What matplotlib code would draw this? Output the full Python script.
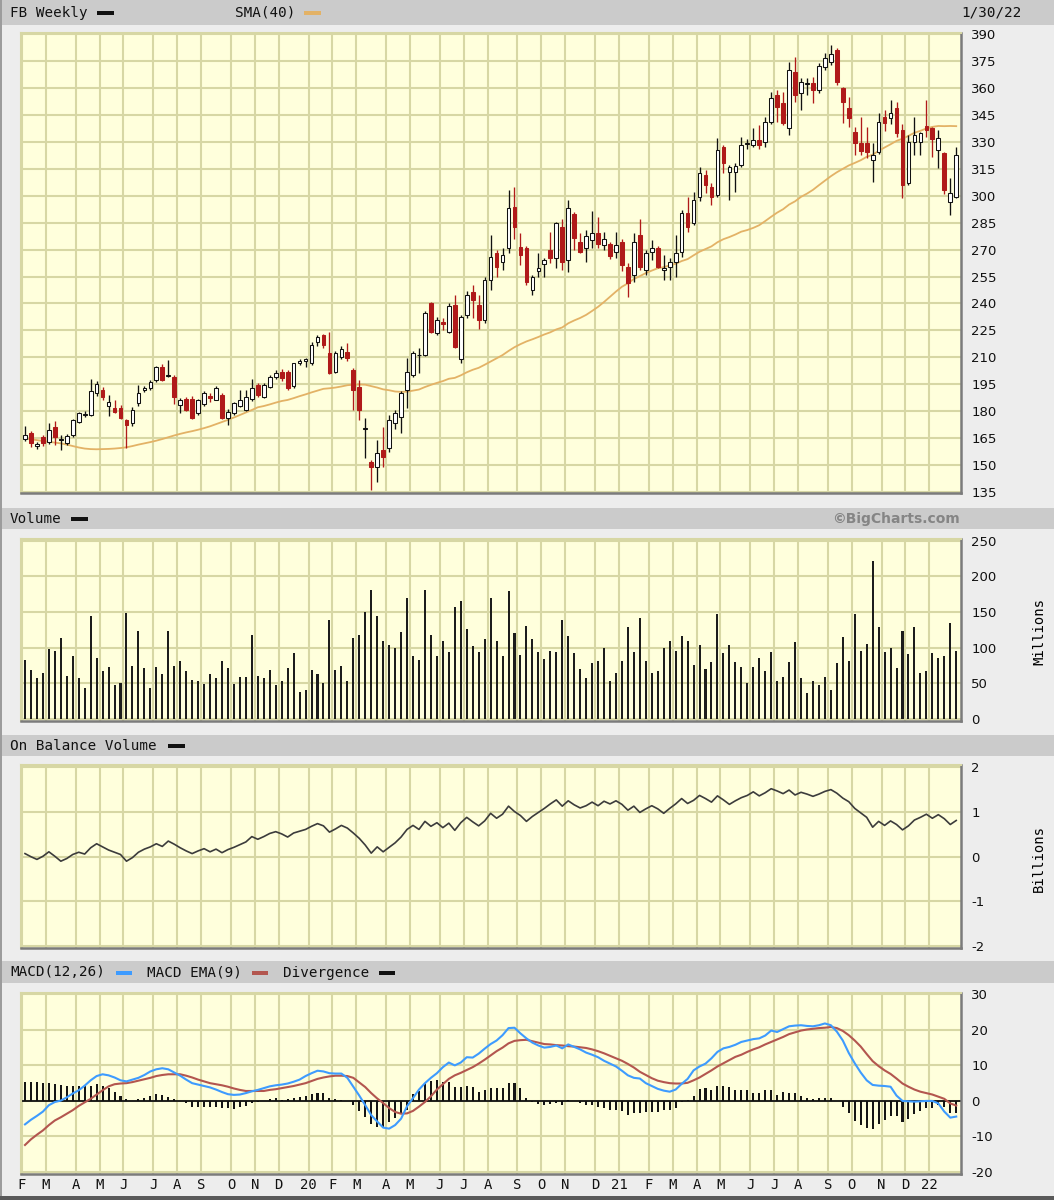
import numpy as np
import pandas as pd
import matplotlib
matplotlib.use("Agg")
import matplotlib.pyplot as plt
from matplotlib.patches import Rectangle

W, H = 1054, 1200

# ---- weekly data, first bar = week of 2019-02-04 ----
opens = [164.5, 167.5, 160.3, 165.3, 163.0, 170.9, 163.8, 162.0, 166.6, 174.1,
         177.9, 177.8, 189.9, 191.7, 182.8, 181.5, 181.5, 175.0, 173.1, 184.3,
         192.0, 192.6, 197.3, 204.7, 199.5, 199.2, 183.4, 187.0, 187.0, 178.7,
         184.0, 188.5, 186.2, 188.9, 176.0, 178.7, 182.8, 180.6, 186.5, 194.5,
         188.0, 193.6, 198.8, 202.0, 202.0, 194.0, 207.0, 208.0, 206.6, 218.7,
         222.4, 212.2, 202.0, 210.3, 213.1, 202.9, 193.6, 169.8, 151.8, 149.0,
         158.3, 159.2, 173.2, 176.9, 191.7, 200.1, 211.0, 211.2, 240.0, 223.3,
         229.5, 224.2, 239.1, 209.0, 233.5, 246.5, 239.1, 230.8, 253.0, 267.9,
         263.3, 270.7, 293.5, 271.6, 270.7, 247.5, 258.0, 262.0, 269.8, 265.1,
         282.8, 264.2, 290.0, 274.4, 270.7, 275.3, 279.0, 272.6, 273.1, 268.8,
         274.4, 260.5, 255.8, 278.1, 258.6, 268.8, 270.7, 258.8, 260.5, 263.3,
         268.8, 290.2, 284.6, 299.5, 311.6, 305.0, 300.4, 327.4, 313.4, 313.4,
         317.2, 329.0, 328.3, 331.1, 330.2, 341.3, 356.2, 351.5, 337.6, 369.2,
         357.1, 362.3, 362.7, 359.0, 372.0, 374.7, 381.3, 359.9, 348.7, 335.7,
         329.2, 329.2, 319.9, 324.6, 344.1, 343.2, 348.7, 336.7, 306.9, 330.2,
         330.2, 338.9, 337.6, 325.5, 323.6, 296.7, 299.5]
highs = [171.7, 169.0, 163.0, 166.5, 173.1, 174.4, 166.6, 167.0, 175.8, 179.6,
         180.0, 197.7, 196.5, 193.6, 189.0, 186.2, 183.5, 175.8, 182.0, 194.5,
         194.0, 197.5, 205.0, 206.0, 208.4, 200.0, 187.5, 188.0, 188.5, 186.5,
         191.0, 190.0, 194.0, 190.0, 181.0, 185.0, 191.7, 191.7, 197.7, 195.5,
         195.5, 200.0, 203.0, 203.5, 203.0, 207.0, 209.0, 209.5, 218.5, 222.5,
         223.0, 224.3, 213.5, 216.0, 218.0, 204.0, 197.3, 176.0, 152.5, 163.8,
         171.3, 177.8, 180.6, 191.0, 209.4, 213.5, 215.0, 235.5, 241.0, 232.5,
         232.0, 240.0, 244.7, 233.5, 247.0, 250.0, 244.7, 255.0, 278.1, 269.8,
         270.7, 303.0, 304.7, 279.0, 272.0, 256.0, 267.9, 265.5, 280.0, 285.5,
         287.0, 297.6, 291.0, 279.4, 280.9, 291.7, 288.4, 280.0, 274.5, 280.0,
         276.0, 262.3, 279.0, 286.9, 270.0, 275.3, 272.0, 266.9, 265.1, 278.1,
         292.0, 299.5, 302.3, 316.2, 314.4, 306.9, 332.0, 328.3, 317.2, 318.1,
         332.9, 331.5, 337.6, 339.4, 344.1, 358.0, 358.9, 358.0, 374.7, 377.5,
         365.5, 365.5, 366.4, 373.8, 379.4, 384.3, 382.5, 360.8, 355.2, 338.5,
         344.1, 338.5, 329.2, 346.0, 347.8, 353.4, 352.0, 340.0, 334.0, 344.0,
         335.5, 353.4, 338.5, 336.7, 324.5, 309.7, 327.4]
lows = [163.3, 159.8, 159.0, 160.5, 161.5, 161.0, 158.3, 161.0, 165.5, 173.5,
        176.5, 177.0, 188.5, 186.2, 177.2, 178.7, 175.5, 159.2, 171.5, 183.0,
        190.5, 192.0, 196.0, 196.5, 199.2, 184.0, 178.7, 180.0, 175.5, 178.0,
        183.0, 185.0, 186.0, 175.5, 172.2, 178.0, 182.0, 180.0, 185.5, 188.0,
        187.5, 193.0, 198.0, 196.5, 192.0, 193.0, 205.5, 204.5, 205.5, 216.0,
        215.0, 200.5, 201.0, 209.0, 208.0, 180.6, 175.0, 153.6, 136.0, 140.6,
        149.0, 157.0, 170.0, 167.6, 181.5, 199.0, 201.0, 210.5, 223.5, 222.3,
        225.0, 223.5, 215.0, 206.6, 232.0, 231.6, 225.5, 228.9, 247.5, 254.9,
        258.6, 267.9, 276.0, 261.4, 250.3, 244.7, 254.9, 254.9, 262.3, 259.5,
        258.6, 257.7, 269.8, 267.9, 263.3, 270.7, 270.7, 269.8, 264.6, 265.1,
        258.0, 243.8, 252.1, 258.6, 256.0, 264.2, 259.5, 253.0, 253.0, 254.9,
        266.0, 280.0, 283.5, 297.0, 301.4, 294.9, 299.5, 312.5, 297.6, 302.3,
        316.0, 326.0, 327.0, 326.0, 327.4, 340.0, 341.3, 339.4, 333.9, 352.4,
        347.8, 356.2, 351.5, 357.5, 370.1, 372.9, 362.0, 340.4, 338.5, 322.7,
        322.7, 321.0, 307.9, 323.0, 336.0, 340.0, 333.0, 298.6, 306.0, 322.7,
        322.7, 333.0, 321.8, 315.3, 301.0, 289.3, 298.6]
closes = [166.5, 162.3, 161.9, 162.3, 169.4, 165.7, 164.5, 166.1, 175.0, 178.7,
          178.3, 191.2, 195.1, 188.0, 185.2, 179.6, 176.3, 172.2, 180.6, 190.2,
          192.6, 196.4, 204.4, 197.3, 200.3, 188.0, 186.2, 180.6, 176.0, 186.2,
          190.0, 187.2, 192.7, 176.0, 179.7, 184.3, 186.2, 188.0, 192.7, 189.0,
          194.5, 199.2, 201.0, 198.2, 192.7, 206.6, 207.8, 208.8, 216.8, 221.5,
          216.8, 201.0, 212.2, 214.4, 209.4, 191.7, 180.6, 170.3, 149.0, 156.4,
          154.2, 175.0, 178.7, 189.9, 201.9, 212.2, 211.2, 234.5, 224.2, 230.8,
          228.5, 238.6, 215.5, 232.6, 244.7, 241.9, 230.8, 253.0, 266.0, 260.5,
          267.0, 293.0, 282.7, 267.0, 252.1, 254.9, 259.5, 264.2, 265.1, 284.6,
          263.3, 293.0, 276.3, 268.8, 277.6, 279.4, 273.1, 275.7, 266.4, 272.6,
          261.5, 251.2, 274.4, 260.5, 267.9, 270.7, 260.5, 259.5, 263.3, 267.9,
          290.2, 282.8, 297.6, 312.5, 306.0, 299.5, 325.5, 318.1, 316.2, 316.8,
          328.3, 329.6, 331.1, 328.3, 341.3, 354.3, 349.7, 340.4, 370.1, 356.2,
          363.6, 363.0, 359.0, 372.3, 376.6, 379.0, 363.6, 352.4, 343.2, 329.2,
          325.0, 324.6, 322.7, 341.3, 340.4, 346.0, 334.8, 306.0, 330.2, 333.9,
          334.8, 336.7, 331.5, 332.0, 303.2, 301.4, 322.7]
sma40 = [164.8, 164.3, 163.8, 163.3, 162.9, 162.4, 162.0, 161.3, 160.5, 159.7,
         159.1, 158.8, 158.7, 158.8, 158.9, 159.1, 159.4, 159.8, 160.5, 161.3,
         162.0, 162.7, 163.5, 164.4, 165.4, 166.4, 167.3, 168.1, 168.8, 169.6,
         170.5, 171.5, 172.7, 173.9, 175.1, 176.4, 177.8, 179.2, 180.6, 182.1,
         182.8, 183.7, 184.7, 185.6, 186.2, 187.2, 188.3, 189.3, 190.4, 191.4,
         192.4, 192.7, 193.1, 193.7, 194.4, 194.7, 194.8, 194.7, 193.9, 193.1,
         192.1, 191.6, 190.9, 190.7, 190.8, 191.4, 192.0, 193.4, 194.6, 195.7,
         196.7, 198.0, 198.5, 199.9, 201.6, 203.0, 204.1, 205.8, 207.6, 209.4,
         211.2, 213.5, 215.6, 217.3, 218.8, 220.0, 221.3, 222.7, 223.9, 225.5,
         226.6, 228.9, 230.5, 231.9, 233.6, 235.8, 238.1, 240.8, 243.7, 246.6,
         249.3, 251.2, 253.6, 255.2, 256.9, 258.3, 259.6, 260.2, 261.2, 262.1,
         263.6, 264.7, 266.8, 268.8, 270.3, 271.8, 274.1, 275.8, 277.0, 278.4,
         280.0, 280.9, 282.1, 283.6, 285.9, 288.3, 290.6, 292.5, 295.1, 296.9,
         299.4, 301.2, 303.3, 305.9, 308.4, 310.9, 313.1, 315.0, 316.9, 318.3,
         319.8, 321.7, 322.9, 325.0, 326.9, 328.7, 330.6, 331.8, 333.4, 335.1,
         336.2, 337.5, 338.4, 338.9, 338.8, 338.9, 338.8]
volume = [83, 69, 57, 65, 98, 96, 114, 61, 88, 57,
          43, 144, 86, 67, 73, 47, 51, 148, 75, 124,
          71, 43, 73, 63, 124, 75, 81, 67, 55, 53,
          49, 63, 57, 81, 71, 49, 59, 59, 118, 61,
          57, 69, 47, 53, 71, 92, 38, 41, 69, 63,
          50, 139, 69, 75, 53, 114, 118, 150, 181, 144,
          110, 104, 100, 122, 170, 88, 83, 181, 118, 88,
          110, 94, 157, 165, 126, 102, 94, 112, 169, 110,
          89, 180, 120, 90, 130, 112, 94, 84, 96, 94,
          139, 117, 92, 70, 57, 78, 81, 99, 53, 64,
          81, 129, 94, 141, 81, 64, 67, 100, 110, 96,
          117, 110, 76, 104, 70, 80, 147, 92, 104, 80,
          73, 50, 73, 86, 67, 94, 53, 59, 80, 108,
          57, 37, 53, 47, 59, 41, 78, 115, 81, 147,
          96, 105, 221, 129, 94, 100, 72, 123, 91, 129,
          64, 67, 92, 86, 88, 135, 96]
obv = [0.07, 0.00, -0.06, 0.01, 0.11, 0.01, -0.10, -0.04, 0.05, 0.10,
       0.06, 0.20, 0.29, 0.22, 0.15, 0.10, 0.05, -0.10, -0.02, 0.10,
       0.17, 0.22, 0.29, 0.23, 0.35, 0.28, 0.20, 0.13, 0.07, 0.13,
       0.18, 0.11, 0.17, 0.09, 0.16, 0.21, 0.27, 0.33, 0.45, 0.39,
       0.45, 0.52, 0.56, 0.51, 0.44, 0.53, 0.57, 0.61, 0.68, 0.74,
       0.69, 0.55, 0.62, 0.70, 0.64, 0.53, 0.41, 0.26, 0.08, 0.22,
       0.11, 0.21, 0.31, 0.44, 0.61, 0.70, 0.61, 0.79, 0.68, 0.76,
       0.65, 0.75, 0.59, 0.76, 0.88, 0.78, 0.69, 0.80, 0.97, 0.86,
       0.95, 1.13, 1.01, 0.92, 0.79, 0.90, 0.99, 1.08, 1.18, 1.27,
       1.13, 1.25, 1.16, 1.09, 1.14, 1.22, 1.14, 1.24, 1.18, 1.25,
       1.17, 1.04, 1.13, 0.99, 1.07, 1.14, 1.07, 0.97, 1.08, 1.18,
       1.30, 1.19, 1.26, 1.37, 1.30, 1.22, 1.36, 1.27, 1.17, 1.25,
       1.32, 1.37, 1.45, 1.36, 1.43, 1.52, 1.47, 1.41, 1.49, 1.38,
       1.44, 1.40, 1.35, 1.40, 1.46, 1.50, 1.42, 1.31, 1.23, 1.08,
       0.98, 0.88, 0.66, 0.79, 0.70, 0.80, 0.72, 0.60, 0.69, 0.82,
       0.88, 0.95, 0.86, 0.94, 0.85, 0.72, 0.81]
macd = [-6.6, -5.3, -4.2, -3.0, -1.2, -0.3, 0.1, 1.0, 2.1, 3.0,
        4.3, 5.8, 7.0, 7.5, 7.2, 6.6, 5.8, 5.5, 6.0, 6.5,
        7.3, 8.3, 8.9, 9.2, 8.9, 8.0, 7.1, 6.0, 5.0, 4.6,
        4.2, 3.8, 3.2, 2.5, 1.9, 1.7, 1.8, 2.2, 2.7, 3.1,
        3.6, 4.1, 4.4, 4.6, 4.9, 5.4, 6.0, 7.0, 7.8, 8.5,
        8.3, 7.8, 7.7, 7.7, 6.5, 4.0, 1.5, -1.2, -4.0, -5.8,
        -7.5, -7.8, -6.8, -5.0, -1.5, 0.8, 3.2, 5.0, 6.5, 7.8,
        9.5, 10.8, 10.0, 10.8, 12.3, 12.2, 13.3, 14.7, 16.0, 17.0,
        18.5, 20.5, 20.6, 19.0, 17.6, 16.4, 15.6, 15.0, 15.2, 15.6,
        14.8, 15.9, 15.2, 14.5, 13.6, 13.0, 12.3, 11.3, 10.5, 9.7,
        8.5, 7.2, 6.5, 6.3, 5.0, 4.2, 3.4, 2.9, 2.6, 3.2,
        4.8, 6.2, 8.6, 9.7, 10.5, 12.0, 13.8, 14.8, 15.2, 15.8,
        16.6, 17.0, 17.4, 17.6, 18.4, 19.8, 19.4, 20.2, 21.0, 21.2,
        21.3, 21.1, 21.0, 21.3, 21.8, 21.3, 19.5, 17.0, 13.5, 10.6,
        8.0, 5.8, 4.5, 4.3, 4.2, 4.0, 1.5, 0.0, -0.1, -0.2,
        -0.1, 0.0, 0.0, -0.7, -3.0, -4.7, -4.4]
macd_ema = [-12.4, -10.8, -9.5, -8.3, -6.8, -5.5, -4.6, -3.6, -2.6, -1.4,
            -0.4, 0.6, 1.8, 3.0, 4.1, 4.7, 4.9, 5.0, 5.3, 5.7,
            6.1, 6.5, 7.0, 7.3, 7.5, 7.5, 7.5, 7.1, 6.6, 6.0,
            5.5, 5.0, 4.7, 4.4, 4.0, 3.5, 3.1, 2.8, 2.8, 2.8,
            2.8, 3.1, 3.3, 3.6, 3.9, 4.2, 4.6, 5.0, 5.6, 6.2,
            6.6, 6.9, 7.1, 7.1, 7.0, 6.5, 5.2, 3.9, 2.2, 0.7,
            -0.6, -2.0, -3.1, -3.6, -3.5, -2.8, -1.6, -0.3, 1.3, 3.2,
            4.7, 6.2, 7.2, 7.9, 8.7, 9.5, 10.5, 11.6, 12.8, 14.0,
            15.0, 16.2, 16.9, 17.1, 17.2, 16.8, 16.4, 16.0, 15.9, 15.7,
            15.6, 15.4, 15.3, 15.1, 14.9, 14.5, 14.0, 13.4, 12.7, 12.0,
            11.3, 10.4, 9.4, 8.2, 7.3, 6.4, 5.7, 5.3, 5.0, 4.9,
            4.9, 5.1, 5.8, 6.6, 7.6, 8.6, 9.7, 10.6, 11.5, 12.4,
            13.0, 13.8, 14.5, 15.1, 15.9, 16.6, 17.3, 18.0, 18.8, 19.3,
            19.8, 20.1, 20.3, 20.5, 20.6, 20.8, 20.5, 19.7, 18.5, 17.0,
            15.3, 13.2, 11.2, 9.8, 8.6, 7.6, 6.3, 4.9, 4.0, 3.2,
            2.6, 2.2, 1.8, 1.2, 0.6, -0.7, -1.3]
divergence = [5.4, 5.4, 5.2, 5.1, 5.0, 4.7, 4.5, 4.2, 4.2, 4.3,
              4.3, 4.2, 4.8, 4.2, 3.5, 2.6, 1.5, 0.6, 0.1, 0.5,
              0.9, 1.4, 1.9, 1.7, 1.2, 0.6, 0.0, -0.7, -1.6, -1.8,
              -1.8, -1.6, -1.6, -1.9, -2.1, -2.2, -1.6, -1.3, -0.7, -0.4,
              0.0, 0.6, 0.7, 0.3, 0.6, 0.9, 1.2, 1.5, 1.9, 2.1,
              2.1, 0.9, 0.6, 0.3, 0.0, -1.1, -2.8, -4.4, -6.5, -7.2,
              -7.7, -5.8, -4.7, -3.5, -2.5, 1.9, 2.8, 5.0, 5.6, 5.9,
              5.4, 5.4, 4.0, 4.0, 4.2, 4.0, 2.6, 3.0, 3.7, 3.7,
              3.7, 5.0, 5.1, 3.5, 0.9, -0.3, -0.9, -1.1, -0.9, -0.7,
              -1.1, 0.3, 0.0, -0.7, -1.1, -1.1, -1.6, -2.1, -2.5, -2.5,
              -2.8, -3.9, -3.5, -3.5, -3.2, -3.0, -3.0, -2.5, -2.5, -2.1,
              -0.4, 0.2, 1.5, 3.4, 3.6, 3.1, 4.3, 4.3, 3.9, 3.1,
              3.1, 3.1, 2.3, 2.1, 3.1, 3.1, 1.7, 2.6, 2.3, 2.1,
              1.5, 0.7, 0.6, 0.7, 0.9, 0.9, 0.1, -1.6, -3.5, -5.6,
              -6.7, -7.5, -7.9, -6.5, -5.3, -4.1, -4.1, -5.8, -5.0, -3.7,
              -2.8, -2.1, -2.1, -1.1, -1.6, -3.5, -3.5]

price_ticks = list(range(135, 391, 15))
volume_ticks = [0, 50, 100, 150, 200, 250]
obv_ticks = [-2, -1, 0, 1, 2]
macd_ticks = [-20, -10, 0, 10, 20, 30]

# colours
FIG_BG = "#ededed"
HEAD_BG = "#cbcbcb"
PLOT_BG = "#ffffdc"
GRID_C = "#d7d7a4"
RED = "#b01a1a"
SMA_C = "#e3b266"
BLUE = "#3d9bff"
EMA_C = "#b3564f"
MONO = "DejaVu Sans Mono"
SANS = "DejaVu Sans"

n = len(closes)
x = np.arange(n)
o, h, l, c = map(np.array, (opens, highs, lows, closes))

# month grid: bars grouped by the Sunday before each weekly bar
weeks = pd.date_range("2019-02-04", periods=n, freq="7D")
mkey = (weeks - pd.Timedelta(days=1)).to_period("M")
starts = [i for i in range(n) if i == 0 or mkey[i] != mkey[i - 1]]
month_pos = [i - 0.5 for i in starts]
month_lbl = [f"{mkey[i].year % 100:02d}" if mkey[i].month == 1
             else mkey[i].strftime("%b")[0] for i in starts]

XMIN, XMAX = -0.67, 156.8

fig = plt.figure(figsize=(W / 100, H / 100), dpi=100, facecolor=FIG_BG)


def px_axes(x0, y0, x1, y1):
    return fig.add_axes([x0 / W, 1 - y1 / H, (x1 - x0) / W, (y1 - y0) / H])


def fig_rect(x0, y0, w, hgt, color):
    fig.add_artist(Rectangle((x0 / W, 1 - (y0 + hgt) / H), w / W, hgt / H,
                             transform=fig.transFigure, facecolor=color,
                             edgecolor="none", zorder=0))


def fig_text(xp, yp, s, **kw):
    fig.text(xp / W, 1 - yp / H, s, va="center", **kw)


def style(ax, ylim, ticks, labels):
    ax.set_facecolor(PLOT_BG)
    ax.set_xlim(XMIN, XMAX)
    ax.set_ylim(*ylim)
    ax.set_yticks(ticks)
    ax.set_yticklabels(labels, family=SANS, fontsize=9.5)
    ax.yaxis.tick_right()
    ax.tick_params(axis="y", length=0, pad=7.5, colors="#111111")
    ax.set_xticks(month_pos)
    ax.tick_params(axis="x", length=0, labelbottom=False)
    ax.grid(True, color=GRID_C, lw=1.5)
    ax.set_axisbelow(True)
    for side in ("top", "left"):
        ax.spines[side].set_color(GRID_C)
        ax.spines[side].set_linewidth(1.5)
    for side in ("bottom", "right"):
        ax.spines[side].set_color("#7b7b7b")
        ax.spines[side].set_linewidth(1.8)


# ---- header bars ----
fig_rect(0, 0, W, 25, HEAD_BG)
fig_rect(0, 508, W, 21, HEAD_BG)
fig_rect(0, 735, W, 21, HEAD_BG)
fig_rect(0, 961, W, 22, HEAD_BG)
fig_rect(0, 0, 2, H, "#9c9c9c")
fig_rect(0, 1196, W, 4, "#5a5a5a")

hkw = dict(family=MONO, fontsize=10.3, color="#111111", ha="left")
fig_text(10, 12.5, "FB Weekly", **hkw)
fig_rect(97, 10.5, 17, 4, "#111111")
fig_text(235, 12.5, "SMA(40)", **hkw)
fig_rect(304, 10.5, 17, 4, SMA_C)
fig_text(1022, 12.5, "1/30/22", family=MONO, fontsize=10.3, color="#111111", ha="right")

fig_text(10, 519, "Volume", **hkw)
fig_rect(71, 517, 17, 4, "#111111")
fig_text(960, 519, "\u00a9BigCharts.com", family=SANS, fontsize=10,
         fontweight="bold", color="#858585", ha="right")

fig_text(10, 746, "On Balance Volume", **hkw)
fig_rect(168, 744, 17, 4, "#111111")

fig_text(10, 972.5, "MACD(12,26)", **hkw)
fig_rect(116, 970.5, 16, 4, BLUE)
fig_text(147, 972.5, "MACD EMA(9)", **hkw)
fig_rect(252, 970.5, 16, 4, EMA_C)
fig_text(283, 972.5, "Divergence", **hkw)
fig_rect(379, 970.5, 16, 4, "#111111")

fig_text(1039, 632, "Millions", family=MONO, fontsize=10, rotation=90, ha="center")
fig_text(1039, 859, "Billions", family=MONO, fontsize=10, rotation=90, ha="center")

# ---- price panel ----
ax1 = px_axes(21, 33, 961, 493)
style(ax1, (134.33, 390.72), price_ticks, [str(t) for t in price_ticks])
up = c >= o
wick_c = ["#111111" if u else RED for u in up]
face_c = ["white" if u else RED for u in up]
ax1.plot(x, sma40, color=SMA_C, lw=1.3, zorder=2)
ax1.vlines(x, l, h, colors=wick_c, lw=0.95, zorder=2.5)
ax1.bar(x, np.maximum(np.abs(c - o), 0.4), bottom=np.minimum(o, c), width=0.62,
        color=face_c, edgecolor=wick_c, lw=0.75, zorder=3)

# ---- volume panel ----
ax2 = px_axes(21, 539, 961, 721)
style(ax2, (-2.8, 252.4), volume_ticks, [str(t) for t in volume_ticks])
ax2.bar(x, volume, width=0.34, color="#1c1c1c", zorder=3)

# ---- on balance volume panel ----
ax3 = px_axes(21, 765, 961, 948)
style(ax3, (-2.04, 2.05), obv_ticks, [str(t) for t in obv_ticks])
ax3.plot(x, obv, color="#3c3c3c", lw=1.2, zorder=3)

# ---- MACD panel ----
ax4 = px_axes(21, 993, 961, 1174)
style(ax4, (-20.56, 30.37), macd_ticks, [str(t) for t in macd_ticks])
ax4.bar(x, divergence, width=0.34, color="#151515", zorder=2)
ax4.axhline(0, color="#111111", lw=1.3, zorder=2.2)
ax4.plot(x, macd_ema, color=EMA_C, lw=1.5, zorder=3)
ax4.plot(x, macd, color=BLUE, lw=1.5, zorder=3.2)
ax4.set_xticklabels(month_lbl, family=MONO, fontsize=10)
ax4.tick_params(axis="x", labelbottom=True, pad=3, colors="#111111")

fig.savefig("out.png", dpi=100, facecolor=FIG_BG)
